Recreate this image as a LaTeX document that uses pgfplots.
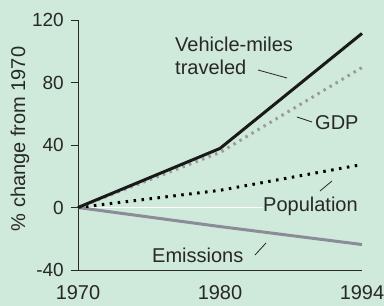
\documentclass[border=0pt]{standalone}
\usepackage{pgfplots}
\pgfplotsset{compat=1.18}
\usepackage{fontspec}
\setmainfont{Liberation Sans}
\definecolor{bg}{RGB}{207,233,218}
\definecolor{txt}{RGB}{40,40,40}
\definecolor{emis}{RGB}{140,140,150}
\definecolor{gdp}{RGB}{155,155,155}
\begin{document}
\begin{tikzpicture}[font=\fontsize{20}{24}\selectfont]
\useasboundingbox (0,0) rectangle (384pt,306pt);
\fill[bg] (0,0) rectangle (384pt,306pt);
\begin{axis}[
  scale only axis, width=284pt, height=250pt,
  at={(78pt,36pt)}, anchor=south west,
  xmin=0, xmax=2, ymin=-40, ymax=120,
  axis lines*=left,
  axis line style={txt, line width=0.8pt},
  xtick={0,1,2}, xticklabels={1970,1980,1994},
  ytick={-40,0,40,80,120},
  tick align=outside,
  tick style={txt, line width=0.8pt},
  major tick length=7pt,
  x tick style={draw=none},
  xticklabel style={anchor=base, yshift=-22pt, text=txt},
  yticklabel style={text=txt, inner sep=0pt, anchor=east, xshift=-7pt, font=\fontsize{19}{22}\selectfont},
  /pgf/number format/assume math mode=true,
  ylabel={\% change from 1970},
  ylabel style={at={(axis description cs:-0.204,0.524)}, anchor=center, text=txt},
  clip=false,
]
\draw[white, line width=0.8pt] (axis cs:0,0) -- (axis cs:1.303,0);
\addplot[emis, line width=3pt] coordinates {(0,0) (1,-12.2) (2,-23.7)};
\addplot[black, line width=3pt, dash pattern=on 2.5pt off 5.5pt] coordinates {(0,0) (1,11) (2,27.5)};
\addplot[gdp, line width=3pt, dash pattern=on 2.5pt off 4.5pt] coordinates {(0,0) (1,35.2) (2,89.6)};
\addplot[black!90, line width=3pt] coordinates {(0,0) (1,37.8) (2,111.4)};
\end{axis}
\begin{scope}[txt]
\node[anchor=base west, inner sep=0pt] at (175pt,{306pt-52pt}) {Vehicle-miles};
\node[anchor=base west, inner sep=0pt] at (175pt,{306pt-75pt}) {traveled};
\draw[line width=0.8pt] (258pt,{306pt-70pt}) -- (287pt,{306pt-78pt});
\node[anchor=base west, inner sep=0pt] at (315pt,{306pt-130pt}) {GDP};
\draw[line width=0.8pt] (297pt,{306pt-117pt}) -- (312pt,{306pt-122pt});
\node[anchor=base west, inner sep=0pt] at (263pt,{306pt-212pt}) {Population};
\draw[line width=0.8pt] (320pt,{306pt-191pt}) -- (332pt,{306pt-181pt});
\node[anchor=base west, inner sep=0pt] at (152pt,{306pt-263pt}) {Emissions};
\draw[line width=0.8pt] (255pt,{306pt-255pt}) -- (266pt,{306pt-243pt});
\end{scope}
\end{tikzpicture}
\end{document}
